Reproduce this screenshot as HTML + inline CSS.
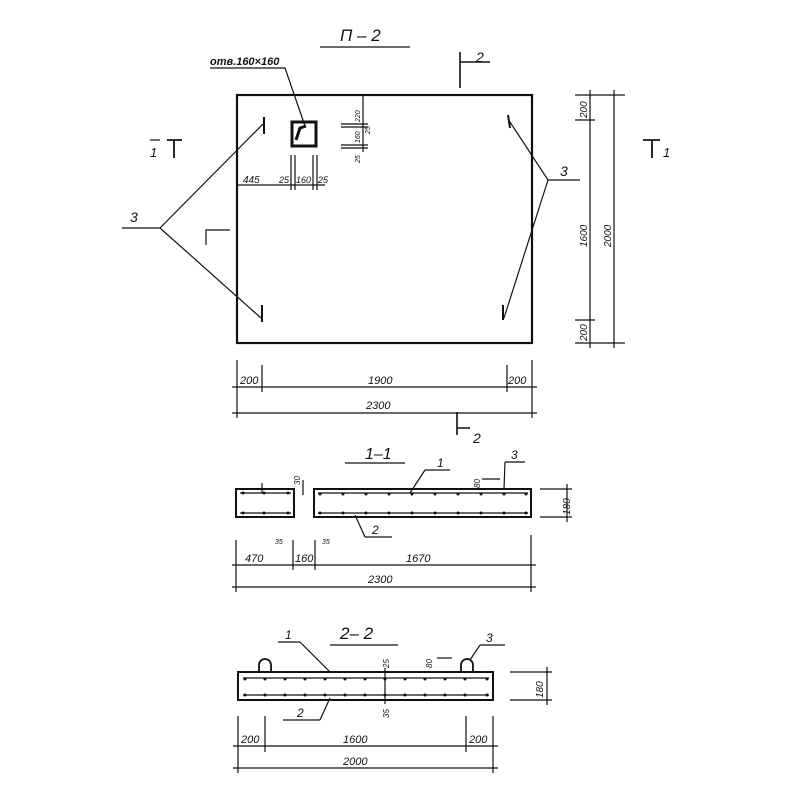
<!DOCTYPE html>
<html><head><style>
html,body{margin:0;padding:0;background:#fff}
svg{display:block}
text{font-family:"Liberation Sans",sans-serif;font-style:italic;fill:#111}
</style></head><body>
<svg width="800" height="800" viewBox="0 0 800 800" xmlns="http://www.w3.org/2000/svg">
<g stroke="#111" stroke-width="1.2" fill="none">
<line x1="320" y1="47" x2="410" y2="47"/>
<rect x="237" y="95" width="295" height="248" stroke-width="2.2"/>
<rect x="292" y="122" width="24" height="24" stroke-width="3"/>
<path d="M296 140 L300 128 L306 126" stroke-width="3"/>
<line x1="210" y1="68" x2="285" y2="68"/>
<line x1="285" y1="68" x2="305" y2="126"/>
<line x1="237" y1="185" x2="325" y2="185"/>
<line x1="291" y1="155" x2="291" y2="190"/><line x1="295" y1="155" x2="295" y2="190"/>
<line x1="313" y1="155" x2="313" y2="190"/><line x1="317" y1="155" x2="317" y2="190"/>
<line x1="341" y1="124" x2="368" y2="124"/><line x1="341" y1="127" x2="368" y2="127"/>
<line x1="341" y1="145" x2="368" y2="145"/><line x1="341" y1="148" x2="368" y2="148"/>
<line x1="363" y1="95" x2="363" y2="152"/>
<line x1="264" y1="117" x2="264" y2="134" stroke-width="2"/>
<line x1="262" y1="305" x2="262" y2="322" stroke-width="2"/>
<line x1="508" y1="115" x2="510" y2="128" stroke-width="2"/>
<line x1="503" y1="305" x2="503" y2="320" stroke-width="2"/>
<line x1="122" y1="228" x2="160" y2="228"/>
<line x1="160" y1="228" x2="263" y2="124"/>
<line x1="160" y1="228" x2="261" y2="318"/>
<line x1="548" y1="180" x2="580" y2="180"/>
<line x1="548" y1="180" x2="510" y2="122"/>
<line x1="548" y1="180" x2="504" y2="318"/>
<path d="M206 245 V230 H230"/>
<line x1="150" y1="140" x2="160" y2="140"/>
<path d="M167 140 H182 M174 140 V158" stroke-width="1.8"/>
<path d="M643 140 H660 M652 140 V158" stroke-width="1.8"/>
<path d="M460 52 V88 M460 62 H490" stroke-width="1.6"/>
<path d="M457 412 V435 M457 428 H470" stroke-width="1.6"/>
<line x1="575" y1="95" x2="625" y2="95"/>
<line x1="575" y1="120" x2="595" y2="120"/>
<line x1="575" y1="320" x2="595" y2="320"/>
<line x1="575" y1="343" x2="625" y2="343"/>
<line x1="590" y1="90" x2="590" y2="348"/>
<line x1="614" y1="90" x2="614" y2="348"/>
<line x1="237" y1="360" x2="237" y2="418"/>
<line x1="262" y1="365" x2="262" y2="392"/>
<line x1="507" y1="365" x2="507" y2="392"/>
<line x1="532" y1="360" x2="532" y2="418"/>
<line x1="232" y1="387" x2="537" y2="387"/>
<line x1="232" y1="413" x2="537" y2="413"/>
<line x1="345" y1="463" x2="405" y2="463"/>
<rect x="236" y="489" width="58" height="28" stroke-width="2"/>
<rect x="314" y="489" width="217" height="28" stroke-width="2"/>
<line x1="240" y1="493" x2="291" y2="493"/><line x1="240" y1="513" x2="291" y2="513"/>
<line x1="318" y1="493" x2="528" y2="493"/><line x1="318" y1="513" x2="528" y2="513"/>
<line x1="262" y1="483" x2="262" y2="493"/>
<line x1="303" y1="480" x2="303" y2="495"/>
<line x1="425" y1="470" x2="450" y2="470"/><line x1="425" y1="470" x2="410" y2="493"/>
<line x1="365" y1="537" x2="392" y2="537"/><line x1="365" y1="537" x2="355" y2="515"/>
<line x1="505" y1="462" x2="525" y2="462"/><line x1="505" y1="462" x2="504" y2="489"/>
<line x1="482" y1="479" x2="500" y2="479"/>
<line x1="540" y1="489" x2="572" y2="489"/><line x1="540" y1="517" x2="572" y2="517"/>
<line x1="567" y1="484" x2="567" y2="522"/>
<line x1="236" y1="540" x2="236" y2="592"/>
<line x1="293" y1="540" x2="293" y2="570"/>
<line x1="315" y1="540" x2="315" y2="570"/>
<line x1="531" y1="535" x2="531" y2="592"/>
<line x1="232" y1="565" x2="536" y2="565"/>
<line x1="232" y1="587" x2="536" y2="587"/>
<line x1="330" y1="645" x2="398" y2="645"/>
<rect x="238" y="672" width="255" height="28" stroke-width="2"/>
<line x1="243" y1="678" x2="489" y2="678"/><line x1="243" y1="695" x2="489" y2="695"/>
<path d="M259 672 V665 A6 6 0 0 1 271 665 V672" stroke-width="1.8"/>
<path d="M461 672 V665 A6 6 0 0 1 473 665 V672" stroke-width="1.8"/>
<line x1="278" y1="642" x2="300" y2="642"/><line x1="300" y1="642" x2="330" y2="672"/>
<line x1="283" y1="720" x2="320" y2="720"/><line x1="320" y1="720" x2="330" y2="698"/>
<line x1="480" y1="645" x2="505" y2="645"/><line x1="480" y1="645" x2="470" y2="660"/>
<line x1="385" y1="668" x2="385" y2="704"/>
<line x1="437" y1="658" x2="452" y2="658"/>
<line x1="510" y1="672" x2="552" y2="672"/><line x1="510" y1="700" x2="552" y2="700"/>
<line x1="547" y1="667" x2="547" y2="705"/>
<line x1="238" y1="716" x2="238" y2="773"/>
<line x1="265" y1="716" x2="265" y2="752"/>
<line x1="466" y1="716" x2="466" y2="752"/>
<line x1="493" y1="716" x2="493" y2="773"/>
<line x1="233" y1="746" x2="498" y2="746"/>
<line x1="233" y1="768" x2="498" y2="768"/>
</g>
<g fill="#111">
<circle cx="243" cy="493" r="1.5"/><circle cx="264" cy="493" r="1.5"/><circle cx="288" cy="493" r="1.5"/>
<circle cx="243" cy="513" r="1.5"/><circle cx="264" cy="513" r="1.5"/><circle cx="288" cy="513" r="1.5"/>
<circle cx="320" cy="494" r="1.5"/><circle cx="343" cy="494" r="1.5"/><circle cx="366" cy="494" r="1.5"/><circle cx="389" cy="494" r="1.5"/><circle cx="412" cy="494" r="1.5"/><circle cx="435" cy="494" r="1.5"/><circle cx="458" cy="494" r="1.5"/><circle cx="481" cy="494" r="1.5"/><circle cx="504" cy="494" r="1.5"/><circle cx="526" cy="494" r="1.5"/>
<circle cx="320" cy="513" r="1.5"/><circle cx="343" cy="513" r="1.5"/><circle cx="366" cy="513" r="1.5"/><circle cx="389" cy="513" r="1.5"/><circle cx="412" cy="513" r="1.5"/><circle cx="435" cy="513" r="1.5"/><circle cx="458" cy="513" r="1.5"/><circle cx="481" cy="513" r="1.5"/><circle cx="504" cy="513" r="1.5"/><circle cx="526" cy="513" r="1.5"/>
<circle cx="245" cy="679" r="1.5"/><circle cx="265" cy="679" r="1.5"/><circle cx="285" cy="679" r="1.5"/><circle cx="305" cy="679" r="1.5"/><circle cx="325" cy="679" r="1.5"/><circle cx="345" cy="679" r="1.5"/><circle cx="365" cy="679" r="1.5"/><circle cx="385" cy="679" r="1.5"/><circle cx="405" cy="679" r="1.5"/><circle cx="425" cy="679" r="1.5"/><circle cx="445" cy="679" r="1.5"/><circle cx="465" cy="679" r="1.5"/><circle cx="487" cy="679" r="1.5"/>
<circle cx="245" cy="695" r="1.5"/><circle cx="265" cy="695" r="1.5"/><circle cx="285" cy="695" r="1.5"/><circle cx="305" cy="695" r="1.5"/><circle cx="325" cy="695" r="1.5"/><circle cx="345" cy="695" r="1.5"/><circle cx="365" cy="695" r="1.5"/><circle cx="385" cy="695" r="1.5"/><circle cx="405" cy="695" r="1.5"/><circle cx="425" cy="695" r="1.5"/><circle cx="445" cy="695" r="1.5"/><circle cx="465" cy="695" r="1.5"/><circle cx="487" cy="695" r="1.5"/>
</g>
<g font-size="11">
<text x="340" y="41" font-size="17">П – 2</text>
<text x="210" y="65" font-size="11" font-weight="bold">отв.160×160</text>
<text x="476" y="62" font-size="14">2</text>
<text x="473" y="443" font-size="14">2</text>
<text x="150" y="157" font-size="13">1</text>
<text x="663" y="157" font-size="13">1</text>
<text x="130" y="222" font-size="14">3</text>
<text x="560" y="176" font-size="14">3</text>
<text x="243" y="183" font-size="10">445</text>
<text x="279" y="183" font-size="9">25</text>
<text x="296" y="183" font-size="9">160</text>
<text x="318" y="183" font-size="9">25</text>
<text x="240" y="384" font-size="11">200</text>
<text x="368" y="384" font-size="11">1900</text>
<text x="508" y="384" font-size="11">200</text>
<text x="366" y="409" font-size="11">2300</text>
<text transform="translate(587,118) rotate(-90)" font-size="10">200</text>
<text transform="translate(587,247) rotate(-90)" font-size="10">1600</text>
<text transform="translate(611,247) rotate(-90)" font-size="10">2000</text>
<text transform="translate(587,341) rotate(-90)" font-size="10">200</text>
<text transform="translate(360,122) rotate(-90)" font-size="7">220</text>
<text transform="translate(370,134) rotate(-90)" font-size="7">25</text>
<text transform="translate(360,143) rotate(-90)" font-size="7">160</text>
<text transform="translate(360,163) rotate(-90)" font-size="7">25</text>
<text x="365" y="459" font-size="16">1–1</text>
<text x="437" y="467" font-size="12">1</text>
<text x="511" y="459" font-size="12">3</text>
<text x="372" y="534" font-size="12">2</text>
<text transform="translate(300,485) rotate(-90)" font-size="8">30</text>
<text transform="translate(480,488) rotate(-90)" font-size="8">80</text>
<text transform="translate(570,515) rotate(-90)" font-size="10">180</text>
<text x="275" y="544" font-size="7">35</text>
<text x="322" y="544" font-size="7">35</text>
<text x="245" y="562" font-size="11">470</text>
<text x="295" y="562" font-size="11">160</text>
<text x="406" y="562" font-size="11">1670</text>
<text x="368" y="583" font-size="11">2300</text>
<text x="340" y="639" font-size="17">2– 2</text>
<text x="285" y="639" font-size="12">1</text>
<text x="486" y="642" font-size="12">3</text>
<text x="297" y="717" font-size="12">2</text>
<text transform="translate(389,668) rotate(-90)" font-size="8">25</text>
<text transform="translate(389,718) rotate(-90)" font-size="8">35</text>
<text transform="translate(432,668) rotate(-90)" font-size="8">80</text>
<text transform="translate(543,698) rotate(-90)" font-size="10">180</text>
<text x="241" y="743" font-size="11">200</text>
<text x="343" y="743" font-size="11">1600</text>
<text x="469" y="743" font-size="11">200</text>
<text x="343" y="765" font-size="11">2000</text>
</g>
</svg>
</body></html>
